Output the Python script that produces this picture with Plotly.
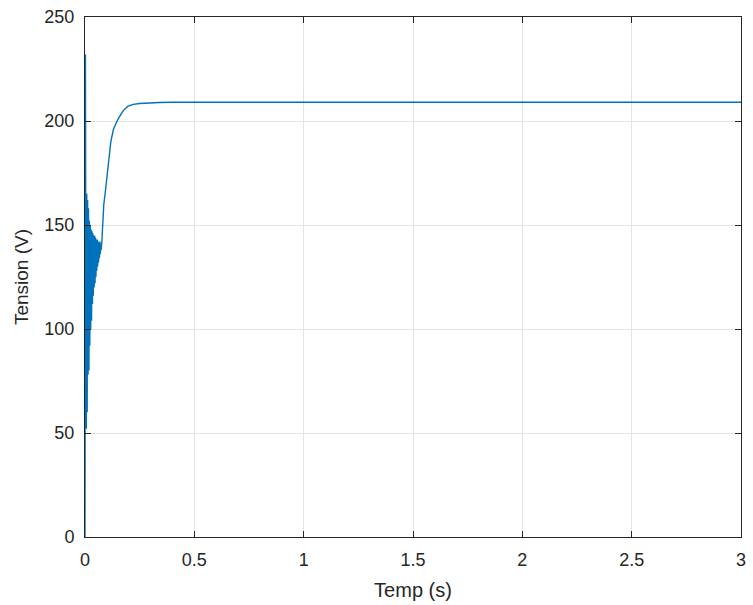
import plotly.graph_objects as go

# Tension response: start-up transient (oscillations), then settling near 209 V
temps = [
    0.000, 0.002, 0.004, 0.006, 0.008, 0.010, 0.012, 0.014, 0.016, 0.018,
    0.020, 0.022, 0.024, 0.026, 0.028, 0.030, 0.032, 0.034, 0.036, 0.038,
    0.040, 0.042, 0.044, 0.046, 0.048, 0.050, 0.052, 0.054, 0.056, 0.058,
    0.060, 0.062, 0.064, 0.066, 0.068, 0.070, 0.072, 0.074, 0.077, 0.081,
    0.086, 0.093, 0.100, 0.110, 0.118, 0.130, 0.140, 0.149, 0.160, 0.175,
    0.195, 0.220, 0.250, 0.290, 0.340, 0.400, 0.600, 1.000, 1.500, 2.000,
    2.500, 3.000,
]
tension = [
    0.0, 232.0, 120.0, 52.0, 165.0, 60.0, 162.0, 78.0, 158.0, 80.0,
    152.0, 92.0, 150.0, 100.0, 148.0, 104.0, 147.0, 112.0, 146.0, 116.0,
    145.0, 120.0, 145.0, 122.0, 144.0, 125.0, 143.0, 128.0, 143.0, 130.0,
    142.0, 132.0, 142.0, 134.0, 142.0, 136.0, 141.0, 138.0, 142.0, 150.0,
    160.0, 166.0, 172.0, 183.0, 190.0, 196.0, 198.5, 200.5, 202.5, 205.0,
    207.0, 208.0, 208.4, 208.7, 208.9, 209.0, 209.0, 209.0, 209.0, 209.0,
    209.0, 209.0,
]

x_ticks = [0, 0.5, 1, 1.5, 2, 2.5, 3]
y_ticks = [0, 50, 100, 150, 200, 250]

text_col = "#262626"
grid_col = "#e3e3e3"
font_family = "Liberation Sans, Arial, sans-serif"

fig = go.Figure()
fig.add_trace(go.Scatter(
    x=temps, y=tension, mode="lines",
    line=dict(color="#0072BD", width=1.4),
    showlegend=False,
))

axis_common = dict(
    showline=True, linecolor=text_col, linewidth=1,
    mirror="ticks", ticks="inside", ticklen=6, tickcolor=text_col,
    showgrid=True, gridcolor=grid_col, gridwidth=1,
    zeroline=False,
    tickfont=dict(family=font_family, size=18, color=text_col),
)

fig.update_layout(
    width=753, height=605,
    margin=dict(l=85, r=7, t=16, b=67),
    paper_bgcolor="white", plot_bgcolor="white",
    font=dict(family=font_family, color=text_col),
    xaxis=dict(
        range=[0, 3], tickvals=x_ticks,
        ticktext=[f"{v:g}" for v in x_ticks],
        ticklabelstandoff=6,
        title=dict(text="Temp (s)", font=dict(size=20, color=text_col), standoff=14),
        **axis_common,
    ),
    yaxis=dict(
        range=[0, 250], tickvals=y_ticks,
        ticktext=[str(v) for v in y_ticks],
        ticklabelstandoff=6,
        title=dict(text="Tension (V)", font=dict(size=19, color=text_col), standoff=10),
        **axis_common,
    ),
)

fig.write_html("out.html")
